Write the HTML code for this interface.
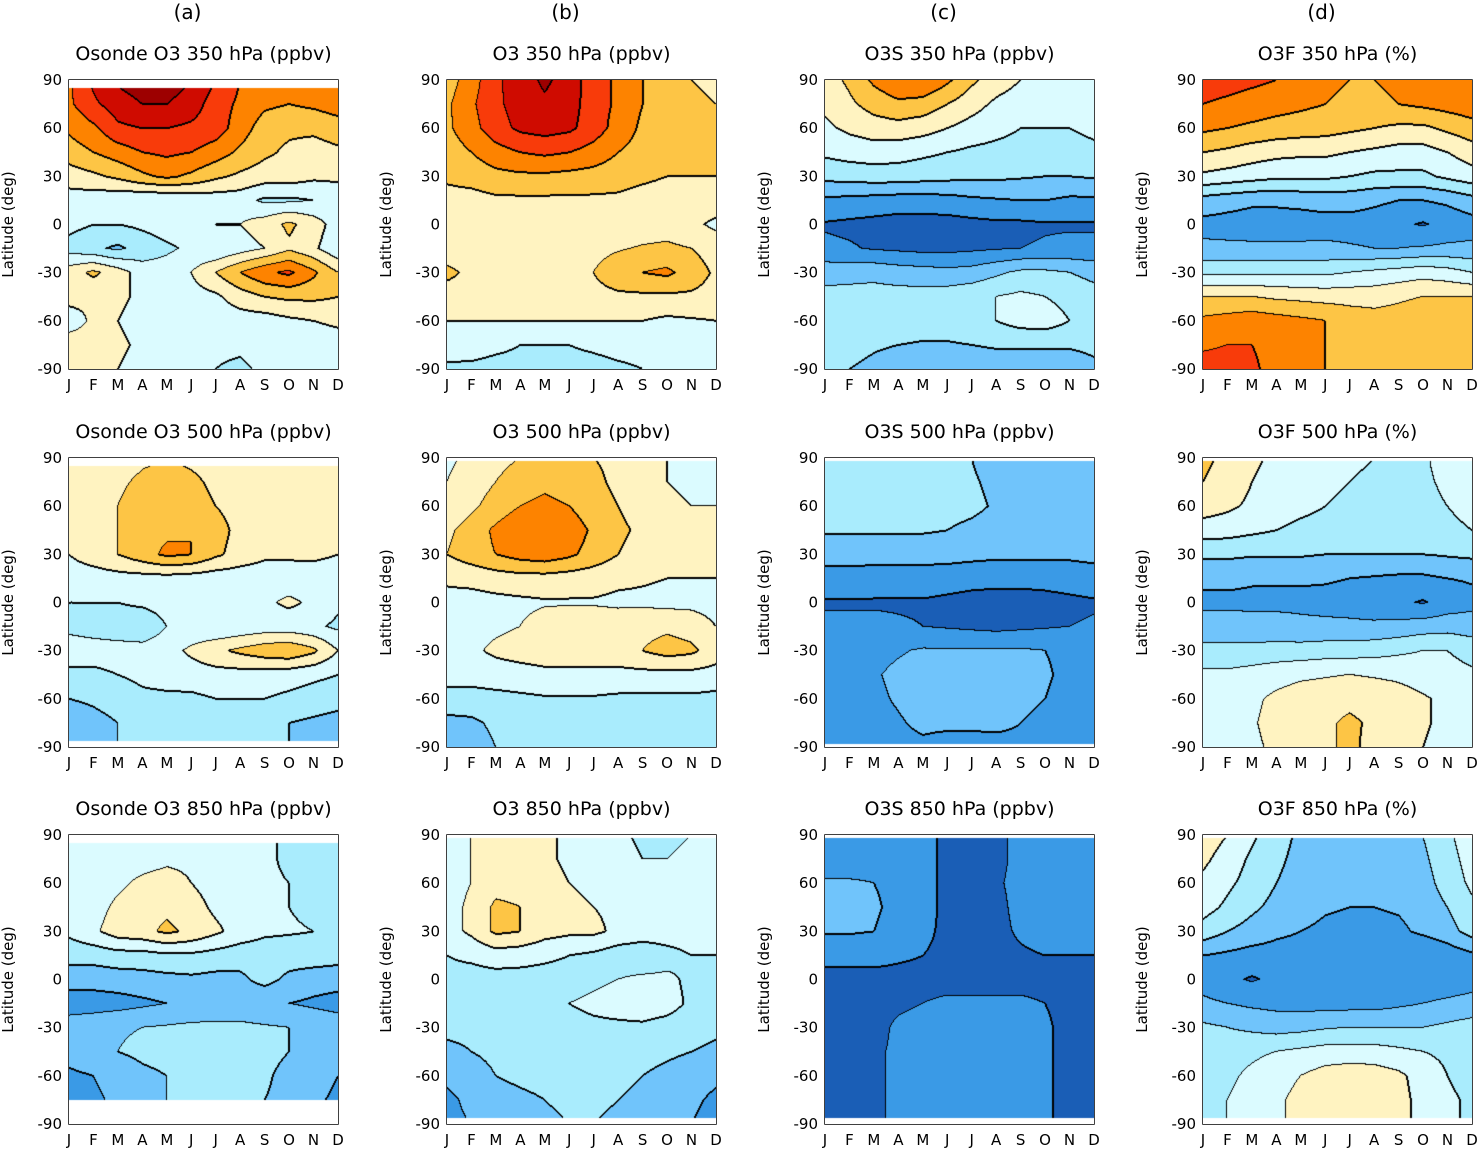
<!DOCTYPE html>
<html><head><meta charset="utf-8"><style>
body{margin:0;background:#fff;width:1479px;height:1157px;overflow:hidden;position:relative;font-family:"DejaVu Sans","Liberation Sans",sans-serif}
canvas{position:absolute}
svg{position:absolute;left:0;top:0}
</style></head><body>
<svg id="ov" width="1479" height="1157"></svg>
<script>
const months=["J","F","M","A","M","J","J","A","S","O","N","D"];
const lats=[90,75,60,45,30,15,0,-15,-30,-45,-60,-75,-90];
const yTicks=[90,60,30,0,-30,-60,-90];
const colLetters=["(a)","(b)","(c)","(d)"];
const levelColors=["#1a5eb6","#3a9ae6","#70c4fb","#a9ecfd","#dbfbff","#fff3c1","#fdc545","#fd8300","#f83b0a","#cf0b00","#9d0000"];
const titles=[
["Osonde O3 350 hPa (ppbv)","O3 350 hPa (ppbv)","O3S 350 hPa (ppbv)","O3F 350 hPa (%)"],
["Osonde O3 500 hPa (ppbv)","O3 500 hPa (ppbv)","O3S 500 hPa (ppbv)","O3F 500 hPa (%)"],
["Osonde O3 850 hPa (ppbv)","O3 850 hPa (ppbv)","O3S 850 hPa (ppbv)","O3F 850 hPa (%)"]];
const d1a=[[78,92,102,106,106,100,90,80,75,76,80,78],[78,88,95,100,100,95,85,78,72,70,72,75],[72,78,88,90,90,88,85,75,65,62,62,65],[65,70,75,80,82,80,75,68,62,58,56,58],[55,58,62,68,72,68,62,58,55,55,52,52],[45,44,42,40,40,42,44,44,38,38,40,44],[43,40,40,42,45,48,50,50,55,62,55,45],[36,32,28,34,38,42,40,45,50,58,52,42],[55,62,55,45,45,50,60,70,78,82,72,60],[54,52,52,48,46,46,48,55,60,62,62,60],[44,52,50,46,44,48,45,45,45,48,50,52],[56,55,52,48,46,43,42,42,45,42,44,45],[58,56,50,46,42,42,40,38,42,40,40,45]];
const d1b=[[65,75,88,95,102,95,85,78,70,65,60,58],[68,78,88,94,98,94,85,78,70,65,62,60],[68,76,86,92,94,92,85,76,68,64,64,65],[65,70,76,80,82,80,76,70,66,64,64,64],[62,64,67,68,68,67,66,64,62,60,60,60],[56,56,58,58,58,58,58,58,56,55,55,55],[52,51,51,50,50,50,51,52,54,55,52,48],[55,55,54,54,54,55,57,59,61,62,60,55],[62,58,56,55,56,58,60,66,70,72,66,58],[56,56,55,55,56,56,57,58,58,58,58,56],[50,50,50,50,50,50,50,50,50,48,49,50],[45,44,42,40,40,40,41,42,42,42,42,44],[38,38,37,37,37,38,38,39,40,40,40,40]];
const d1c=[[55,62,72,78,80,72,62,55,50,45,42,45],[52,58,64,68,66,60,54,48,45,42,42,45],[48,52,55,56,54,50,46,43,40,40,40,42],[42,44,45,44,42,40,38,37,36,36,36,38],[33,34,35,35,34,33,32,32,31,30,30,31],[18,17,16,15,15,16,18,19,20,20,18,18],[9,8,7,6,6,6,7,8,8,9,9,9],[12,11,9,8,7,7,8,9,10,11,12,12],[26,26,27,25,24,23,24,28,32,32,30,27],[33,34,34,34,34,35,37,40,42,40,37,34],[37,38,37,36,35,35,37,40,44,45,40,37],[33,33,31,30,29,29,30,31,31,31,31,32],[30,30,28,26,25,24,24,25,25,25,25,28]];
const d1d=[[85,84,82,80,76,72,70,70,72,74,76,78],[80,78,76,74,72,70,68,68,70,72,74,76],[72,70,68,66,65,64,62,60,58,58,62,66],[60,58,55,53,52,52,50,48,46,46,50,55],[48,46,44,42,42,42,40,38,38,38,42,46],[26,24,22,22,23,24,24,22,20,20,22,26],[17,16,15,15,15,16,16,15,12,9,13,16],[22,22,22,22,22,22,21,20,20,21,22,22],[38,38,38,38,38,38,40,42,44,46,44,40],[60,60,60,58,57,56,56,56,58,60,60,60],[72,74,76,74,72,70,66,64,65,68,70,70],[78,80,80,76,72,70,66,64,63,63,64,70],[85,85,82,76,72,70,68,64,62,62,62,70]];
const d2a=[[55,55,55,58,60,58,56,55,55,55,55,52],[55,56,58,62,64,62,58,55,53,52,52,52],[54,56,60,65,66,64,60,56,53,52,52,52],[52,55,60,66,68,70,64,57,54,52,52,52],[50,55,60,66,72,70,62,56,52,52,52,50],[45,45,46,46,46,45,44,44,44,44,45,45],[40,40,40,42,44,45,44,44,48,52,48,42],[38,36,34,32,40,42,40,42,44,44,42,38],[44,44,44,44,46,52,58,62,66,68,62,50],[38,38,40,42,44,45,46,46,45,44,42,40],[30,32,35,38,38,38,40,40,40,38,36,34],[22,26,30,32,33,34,34,34,32,30,28,26],[20,26,30,30,32,32,32,32,30,30,26,22]];
const d2b=[[48,52,56,60,62,62,60,58,54,50,48,46],[50,55,60,66,68,66,62,58,54,50,48,48],[52,58,64,70,72,70,64,60,56,52,50,50],[58,64,72,78,80,76,68,62,58,54,52,52],[60,65,70,74,76,72,66,60,56,54,52,52],[52,53,55,56,56,55,54,52,51,50,50,50],[46,46,47,48,49,49,49,48,48,47,47,46],[45,46,48,50,54,56,56,56,57,58,56,50],[48,48,52,54,56,56,56,56,60,64,62,55],[44,44,45,46,47,47,47,47,47,47,47,46],[36,36,37,38,39,39,39,38,38,38,38,37],[27,28,32,34,35,36,36,35,35,35,34,32],[22,25,30,32,34,35,35,35,35,35,34,32]];
const d2c=[[35,35,34,34,33,32,30,26,25,25,25,25],[35,35,34,34,33,33,31,28,25,25,25,25],[34,34,34,34,33,33,32,29,26,25,25,25],[31,31,31,31,31,30,28,26,25,25,25,25],[24,24,24,24,24,24,23,22,22,22,22,23],[16,16,15,15,15,14,13,13,13,13,14,15],[9,9,9,9,9,8,7,6,6,7,8,9],[12,12,12,11,10,9,8,7,8,9,10,11],[16,16,17,19,21,21,21,21,21,20,18,16],[16,16,19,22,24,24,24,24,23,21,18,16],[16,16,18,21,24,24,24,24,22,20,17,16],[16,16,17,19,22,22,22,22,20,18,16,16],[16,16,16,17,18,16,16,17,18,17,16,16]];
const d2d=[[62,58,52,48,46,44,42,40,38,38,45,50],[60,56,50,46,44,42,40,38,36,38,42,46],[55,52,48,44,42,40,38,36,36,37,40,44],[45,44,42,40,38,37,36,35,35,35,37,40],[32,32,31,31,31,30,30,30,30,30,31,32],[22,22,21,21,21,21,20,19,18,18,20,21],[18,18,18,18,18,17,16,14,12,9,14,17],[24,24,23,23,22,22,22,22,23,25,26,25],[33,33,33,34,34,35,35,36,38,40,40,36],[42,42,44,46,48,49,50,49,48,46,44,42],[46,46,48,52,55,56,57,56,54,51,48,46],[46,47,49,53,56,58,62,58,54,51,48,46],[44,46,48,52,55,58,62,57,54,50,47,45]];
const d3a=[[45,44,44,44,45,46,46,45,42,38,36,36],[44,44,45,46,48,48,47,45,42,38,36,36],[42,44,48,52,54,50,46,44,42,40,38,36],[42,46,52,55,58,54,48,45,42,40,38,38],[42,48,55,57,62,58,52,46,42,41,40,40],[34,34,36,36,38,38,36,34,34,34,35,34],[24,24,25,26,27,28,27,28,33,28,25,24],[15,15,16,18,20,22,24,24,22,20,18,16],[25,27,29,30,31,32,32,32,31,30,28,26],[24,27,30,32,33,34,34,33,32,30,28,26],[18,20,24,28,30,32,32,32,31,28,24,20],[16,18,22,28,30,32,32,32,30,28,22,18],[16,18,22,28,30,32,32,32,30,28,22,18]];
const d3b=[[46,50,54,55,52,48,44,42,38,38,40,42],[46,50,54,55,52,48,46,44,40,40,42,44],[46,50,56,56,54,50,48,46,46,46,46,46],[46,52,62,60,54,52,50,48,47,47,46,46],[46,52,62,60,54,52,52,48,46,46,46,46],[40,42,45,44,42,40,38,34,32,36,40,40],[37,36,36,36,36,36,38,40,42,42,38,36],[34,34,35,36,38,40,42,44,46,44,38,34],[32,32,33,35,36,37,38,38,38,36,34,32],[28,30,32,34,35,36,36,35,34,32,30,28],[22,26,30,32,33,34,34,32,30,27,24,22],[18,22,26,28,30,32,32,30,28,25,22,18],[18,20,24,26,28,30,30,28,26,22,20,16]];
const d3c=[[15,15,15,15,13,8,7,8,12,14,14,14],[15,15,16,15,13,8,7,8,12,14,14,14],[21,21,20,18,13,8,7,9,12,14,14,14],[22,22,21,18,13,8,7,8,12,14,14,14],[21,21,20,17,12,8,7,8,11,13,13,13],[12,12,12,11,10,8,7,8,9,10,10,10],[8,8,8,8,8,8,8,8,8,8,8,8],[7,7,8,9,10,11,11,11,11,10,8,7],[6,6,8,11,12,13,13,13,12,11,8,6],[6,6,9,11,12,13,13,13,12,11,8,6],[6,6,9,11,12,13,13,13,12,11,8,6],[6,6,9,11,12,13,13,13,12,11,8,6],[6,6,9,11,12,13,13,13,12,11,8,6]];
const d3d=[[55,50,42,34,28,24,22,22,24,30,38,46],[52,46,38,32,27,24,22,22,24,28,36,44],[48,42,36,30,26,23,22,22,22,26,34,42],[44,38,32,27,24,21,20,20,21,24,30,38],[36,30,26,22,20,18,17,17,18,22,26,34],[20,18,16,16,16,15,14,14,12,10,14,18],[16,12,9,12,14,14,15,15,14,12,13,15],[22,20,18,17,16,16,16,16,18,20,22,24],[32,30,28,26,27,29,30,30,30,30,32,34],[34,36,38,40,42,44,44,44,42,40,38,36],[34,38,42,46,50,54,56,55,52,46,40,36],[36,40,44,48,53,56,58,57,53,47,42,38],[36,40,44,48,53,56,58,57,53,47,42,38]];
const panelData=[[d1a,d1b,d1c,d1d],[d2a,d2b,d2c,d2d],[d3a,d3b,d3c,d3d]];
const latTop=[[85,90,90,90],[85,88,88,88],[85,88,88,88]];
const latBot=[[-90,-90,-90,-90],[-86,-90,-88,-90],[-75,-86,-86,-86]];

const colX=[69,447,825,1203], rowY=[80,458,835], PW=269, PH=289;
const NS="http://www.w3.org/2000/svg", ov=document.getElementById('ov');
function mk(tag,attrs,parent){const e=document.createElementNS(NS,tag);for(const k in attrs)e.setAttribute(k,attrs[k]);(parent||ov).appendChild(e);return e;}
function xScale(c,m){return colX[c]+m*PW/11;}
function yScale(r,lat){return rowY[r]+(90-lat)/180*PH;}
function sample(d,m,lat){
  let i=0;while(i<lats.length-2&&lat<lats[i+1])i++;
  const ty=Math.max(0,Math.min(1,(lats[i]-lat)/(lats[i]-lats[i+1])));
  const j=Math.min(10,Math.floor(m)),tx=m-j;
  const a=d[i][j]*(1-tx)+d[i][j+1]*tx,b=d[i+1][j]*(1-tx)+d[i+1][j+1]*tx;
  return a*(1-ty)+b*ty;
}
function hex(h){return [parseInt(h.substr(1,2),16),parseInt(h.substr(3,2),16),parseInt(h.substr(5,2),16)];}
const rgb=levelColors.map(hex);
for(let r=0;r<3;r++)for(let c=0;c<4;c++){
  const d=panelData[r][c];
  const cv=document.createElement('canvas');cv.width=PW;cv.height=PH;
  cv.style.left=colX[c]+'px';cv.style.top=rowY[r]+'px';
  
  
  document.body.appendChild(cv);
  const ctx=cv.getContext('2d');const img=ctx.createImageData(PW,PH);
  const lev=new Int16Array(PW*PH);
  for(let y=0;y<PH;y++){const lat=90-(y+0.5)/PH*180;
    for(let x=0;x<PW;x++){const m=(x+0.5)/PW*11;
      let L=-1; if(lat<=latTop[r][c]&&lat>=latBot[r][c]){L=Math.max(0,Math.min(10,Math.floor(sample(d,m,lat)/10)));}
      lev[y*PW+x]=L;}}
  const get=(x,y)=>(x<0||y<0||x>=PW||y>=PH)?-2:lev[y*PW+x];
  for(let y=0;y<PH;y++)for(let x=0;x<PW;x++){
    const L=lev[y*PW+x],k=(y*PW+x)*4;let col=L<0?[255,255,255]:rgb[L];
    if(L>=0){let edge=false;
      for(const [dx,dy] of [[1,0],[0,1],[-1,0],[0,-1]]){const n=get(x+dx,y+dy);if(n>=0&&n>L)edge=true;}
      for(const [dx,dy] of [[1,0],[0,1]]){const n=get(x+dx,y+dy);if(n>=0&&n<L)edge=true;}
      if(edge)col=[0,0,0];}
    img.data[k]=col[0];img.data[k+1]=col[1];img.data[k+2]=col[2];img.data[k+3]=255;}
  ctx.putImageData(img,0,0);
  const g=mk('g',{});
  mk('rect',{x:colX[c],y:rowY[r],width:PW,height:PH,fill:'none',stroke:'#000','stroke-width':1.5},g);
  months.forEach((mo,i)=>{const x=xScale(c,i);
    mk('line',{x1:x,x2:x,y1:rowY[r]+PH,y2:rowY[r]+PH-5,stroke:'#000'},g);
    mk('line',{x1:x,x2:x,y1:rowY[r],y2:rowY[r]+5,stroke:'#000'},g);
    const t=mk('text',{x:x,y:rowY[r]+PH+21,'text-anchor':'middle','font-size':15},g);t.textContent=mo;});
  yTicks.forEach(v=>{const y=yScale(r,v);
    mk('line',{x1:colX[c],x2:colX[c]+5,y1:y,y2:y,stroke:'#000'},g);
    mk('line',{x1:colX[c]+PW,x2:colX[c]+PW-5,y1:y,y2:y,stroke:'#000'},g);
    const t=mk('text',{x:colX[c]-7,y:y+5,'text-anchor':'end','font-size':15},g);t.textContent=v;});
  const yl=mk('text',{x:0,y:0,transform:`translate(${colX[c]-56},${rowY[r]+PH/2}) rotate(-90)`,'text-anchor':'middle','font-size':15},g);
  yl.textContent='Latitude (deg)';
  const tt=mk('text',{x:colX[c]+PW/2,y:rowY[r]-20,'text-anchor':'middle','font-size':19},g);
  tt.textContent=titles[r][c];
  if(r===0){const cl=mk('text',{x:colX[c]+PW/2-16,y:19,'text-anchor':'middle','font-size':20},g);cl.textContent=colLetters[c];}
}
</script>
</body></html>
